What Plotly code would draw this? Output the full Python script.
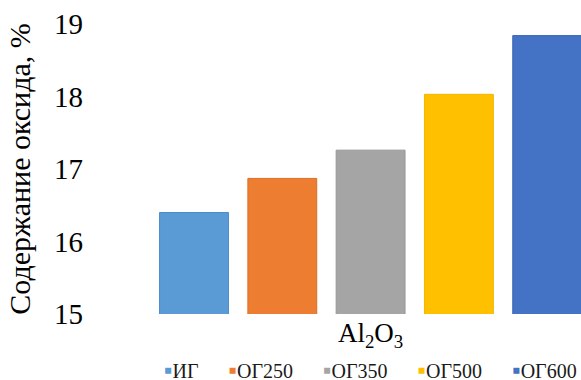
import plotly.graph_objects as go

# Al2O3 content for the initial sample and samples calcined at different temperatures
oxide = "Al<sub>2</sub>O<sub>3</sub>"
samples = ["ИГ", "ОГ250", "ОГ350", "ОГ500", "ОГ600"]
values = [16.40, 16.87, 17.26, 18.03, 18.84]
colors = ["#5B9BD5", "#ED7D31", "#A5A5A5", "#FFC000", "#4472C4"]
edges = ["#4A8BC9", "#DB6E26", "#979797", "#F2B600", "#3B65B3"]

y_ticks = [15, 16, 17, 18, 19]

FONT = "Liberation Serif"

fig = go.Figure()
for name, val, col, edge in zip(samples, values, colors, edges):
    fig.add_trace(go.Bar(
        x=[oxide], y=[val], name=name, showlegend=False,
        marker=dict(color=col, line=dict(color=edge, width=1)),
    ))

W, H = 581, 380
left, top, bottom = 84, 24, 66
group_center_px, group_width_px = 370.6, 441.5
bargap = 0.1
px_per_unit = group_width_px / (1 - bargap)
x_lo = -(group_center_px - left) / px_per_unit
x_hi = (W - group_center_px) / px_per_unit

# compact Excel-style legend: small coloured square right before each name
gap = "\u00a0" * 6
legend_text = gap.join(
    f'<span style="color:{c};font-size:24px">▪</span>{n}'
    for n, c in zip(samples, colors)
)

fig.update_layout(
    width=W, height=H,
    margin=dict(l=left, r=0, t=top, b=bottom, autoexpand=False),
    paper_bgcolor="white", plot_bgcolor="white",
    barmode="group", bargap=bargap, bargroupgap=0.22,
    font=dict(family=FONT, color="#000000"),
    xaxis=dict(
        range=[x_lo, x_hi], showgrid=False, showline=False, zeroline=False,
        tickfont=dict(size=27, family=FONT), ticks="",
    ),
    yaxis=dict(
        range=[15, 19], tickvals=y_ticks, showgrid=False, showline=False,
        zeroline=False, ticks="",
        tickfont=dict(size=29, family=FONT),
        title=dict(text="Содержание оксида, %", font=dict(size=30, family=FONT), standoff=14),
    ),
    annotations=[dict(
        text=legend_text, xref="x", yref="paper", x=0, y=-0.193,
        xanchor="center", yanchor="middle", showarrow=False,
        font=dict(size=20, family=FONT, color="#1a1a1a"),
    )],
)

fig.write_html("out.html")
